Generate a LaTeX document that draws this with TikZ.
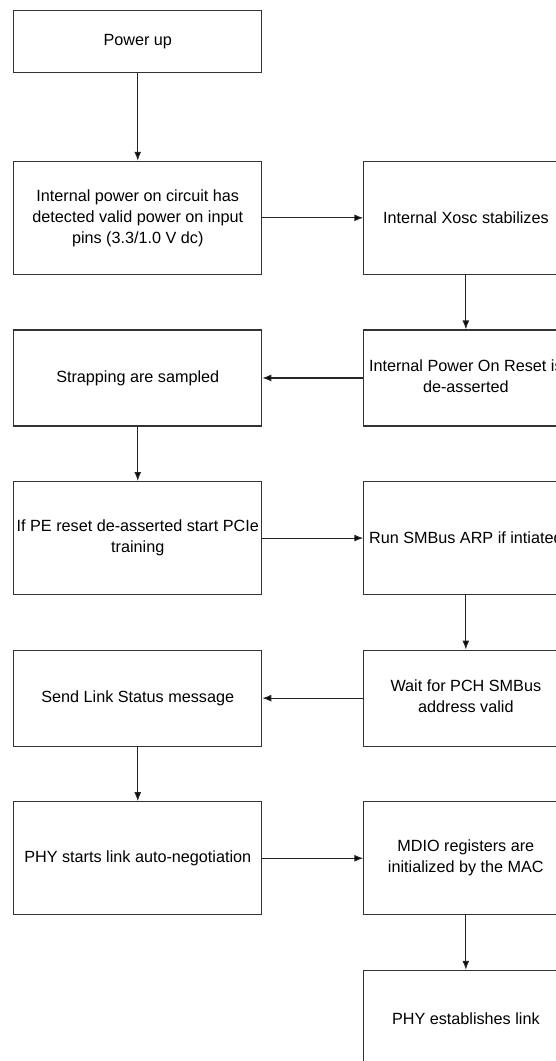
\documentclass[tikz,border=0pt]{standalone}
\usepackage{fontspec}
\setmainfont{Liberation Sans}
\usetikzlibrary{matrix,arrows.meta}
\newcommand{\twolines}[1]{\begin{tabular}{@{}c@{}}#1\end{tabular}}

\begin{document}
\begin{tikzpicture}[
	stagebox/.style={draw=black!80, line width=1.1pt, inner sep=0pt, anchor=center,
		font=\fontsize{16.2}{21}\selectfont},
	tall/.style={stagebox, minimum height=113pt},
	short/.style={stagebox, minimum height=96pt},
	flow/.style={draw=black!85, line width=1.1pt, -{Latex[length=9pt,width=7pt]}}]
	\useasboundingbox (0,0) rectangle (556pt,-1061pt);
	\clip (0,0) rectangle (556pt,-1061pt);
	\matrix[matrix of nodes, name=m, anchor=north west, inner sep=0pt, row sep=54.5pt, column sep=101pt,
		column 1/.style={nodes={minimum width=248pt}},
		column 2/.style={nodes={minimum width=204pt}}] at (13pt,-10pt) {
	|[stagebox, minimum height=62pt]| Power up & \\[33pt]
	|[tall]| \twolines{Internal power on circuit has\\detected valid power on input\\pins (3.3/1.0 V dc)} &
	|[tall]| Internal Xosc stabilizes \\
	|[short]| Strapping are sampled &
	|[short]| \twolines{Internal Power On Reset is\\de-asserted} \\
	|[tall]| \twolines{If PE reset de-asserted start PCIe\\training} &
	|[tall]| Run SMBus ARP if intiated \\
	|[short]| Send Link Status message &
	|[short]| \twolines{Wait for PCH SMBus\\address valid} \\
	|[tall]| PHY starts link auto-negotiation &
	|[tall]| \twolines{MDIO registers are\\initialized by the MAC} \\
	& |[short]| PHY establishes link \\
	};
	\path[flow]
	(m-1-1) edge (m-2-1)
	(m-2-1) edge (m-2-2)
	(m-2-2) edge (m-3-2)
	(m-3-2) edge (m-3-1)
	(m-3-1) edge (m-4-1)
	(m-4-1) edge (m-4-2)
	(m-4-2) edge (m-5-2)
	(m-5-2) edge (m-5-1)
	(m-5-1) edge (m-6-1)
	(m-6-1) edge (m-6-2)
	(m-6-2) edge (m-7-2);
\end{tikzpicture}
\end{document}
